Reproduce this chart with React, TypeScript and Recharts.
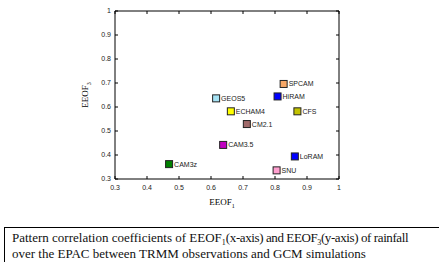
import { ScatterChart, Scatter, XAxis, YAxis, ZAxis, ReferenceLine } from 'recharts';

const models = ['GEOS5', 'SPCAM', 'HiRAM', 'ECHAM4', 'CFS', 'CM2.1', 'CAM3.5', 'LoRAM', 'SNU', 'CAM3z'];
const eeof1 = [0.616, 0.827, 0.808, 0.662, 0.87, 0.712, 0.638, 0.862, 0.805, 0.469];
const eeof3 = [0.636, 0.696, 0.644, 0.582, 0.582, 0.529, 0.442, 0.394, 0.336, 0.362];
const colors = ['#a6e3f5', '#f7a766', '#0000ff', '#ffff00', '#c2c200', '#a06a6a', '#c000c0', '#0000ff', '#ff9fcf', '#008000'];

const xTicks = [0.3, 0.4, 0.5, 0.6, 0.7, 0.8, 0.9, 1];
const yTicks = [0.3, 0.4, 0.5, 0.6, 0.7, 0.8, 0.9, 1];

const points = models.map((name, i) => ({ name, x: eeof1[i], y: eeof3[i], color: colors[i] }));

const tickFont = { fontFamily: 'Arial, "Liberation Sans", sans-serif', fontSize: 7, fill: '#222' };
const serif = '"Liberation Serif", "Times New Roman", serif';
const subStyle = { fontSize: 8, lineHeight: 0, verticalAlign: '-3px' };

function SquareMark(props: any) {
  const { cx, cy, payload } = props;
  return (
    <g>
      <rect x={cx - 3.5} y={cy - 3.5} width={7} height={7} fill={payload.color} stroke="#222" strokeWidth={1} />
      <text x={cx + 5} y={cy + 2.5} {...tickFont}>{payload.name}</text>
    </g>
  );
}

export default function App() {
  return (
    <div style={{ position: 'absolute', left: 0, top: 0, width: 439, height: 262, background: '#fff', overflow: 'hidden' }}>
      <ScatterChart width={439} height={225} margin={{ top: 11, right: 100, left: 85, bottom: 16 }}>
        <XAxis
          type="number"
          dataKey="x"
          domain={[0.3, 1]}
          ticks={xTicks}
          tickFormatter={(v) => String(v)}
          tick={tickFont}
          tickSize={-3}
          tickMargin={9}
          stroke="#000"
          height={30}
        />
        <YAxis
          type="number"
          dataKey="y"
          domain={[0.3, 1]}
          ticks={yTicks}
          tickFormatter={(v) => String(v)}
          tick={tickFont}
          tickSize={-3}
          tickMargin={7}
          stroke="#000"
          width={30}
        />
        <ZAxis range={[40, 40]} />
        {/* box frame: top and right edges with inward ticks */}
        <ReferenceLine y={1} stroke="#000" />
        <ReferenceLine x={1} stroke="#000" />
        {xTicks.map((t) => (
          <ReferenceLine key={'tx' + t} segment={[{ x: t, y: 1 }, { x: t, y: 0.9875 }]} stroke="#000" />
        ))}
        {yTicks.map((t) => (
          <ReferenceLine key={'ty' + t} segment={[{ x: 1, y: t }, { x: 0.9907, y: t }]} stroke="#000" />
        ))}
        <Scatter data={points} shape={<SquareMark />} isAnimationActive={false} />
      </ScatterChart>
      <div style={{ position: 'absolute', left: 222, top: 197, transform: 'translateX(-50%)', fontFamily: serif, fontSize: 9 }}>
        EEOF<sub style={{ fontSize: 6 }}>1</sub>
      </div>
      <div style={{ position: 'absolute', left: 86, top: 95, transform: 'translate(-50%, -50%) rotate(-90deg)', fontFamily: serif, fontSize: 9, whiteSpace: 'nowrap' }}>
        EEOF<sub style={{ fontSize: 6 }}>3</sub>
      </div>
      <div style={{ position: 'absolute', left: 4, top: 227, width: 460, height: 60, borderTop: '1px solid #000', borderLeft: '1px solid #000', padding: '2px 7px', fontFamily: serif, fontSize: 13, lineHeight: '16px', color: '#111', whiteSpace: 'nowrap' }}>
        Pattern correlation coefficients of EEOF<sub style={subStyle}>1</sub>
        <span style={{ letterSpacing: '-0.4px' }}>(x-axis) and EEOF<sub style={subStyle}>3</sub>(y-axis) of rainfall</span>
        <br />
        over the EPAC between TRMM observations and GCM simulations
      </div>
    </div>
  );
}
